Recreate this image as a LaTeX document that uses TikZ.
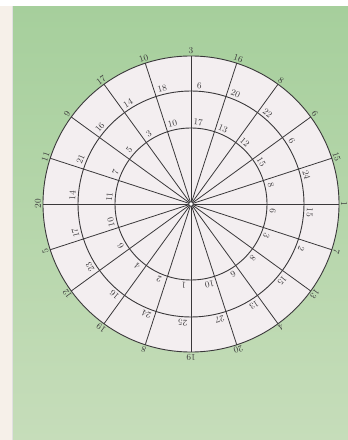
\documentclass[tikz,border=0pt]{standalone}
\usepackage{tikz}
\usetikzlibrary{positioning}
\definecolor{BoardGreen}{HTML}{A6CF9C}
\definecolor{BoardPale}{HTML}{C6DDBA}
\definecolor{DiscFill}{HTML}{F3EEF0}
\definecolor{DiscInk}{HTML}{3A383A}
\definecolor{StripCream}{HTML}{F6F0E9}

\begin{document}
\begin{tikzpicture}[x=1pt,y=1pt,
  ring/.style={draw=DiscInk, line width=0.9pt},
  spoke/.style={draw=DiscInk, line width=0.8pt},
  numlbl/.style={text=DiscInk, font=\small, inner sep=0pt}
]
\useasboundingbox (0,0) rectangle (348,440);
\shade[top color=BoardGreen, bottom color=BoardPale] (12,0) rectangle (348,434);
\fill[white] (0,434) rectangle (348,440);
\fill[StripCream] (0,0) rectangle (12,434);
\draw[black!12] (12,0) -- (12,434);
\coordinate (c) at (191,236);
\fill[DiscFill] (c) circle (148);
\draw[ring] (c) circle (148) (c) circle (113) (c) circle (76);
\foreach \k/\ov/\mv/\iv in {0/1/15/6, 1/15/24/8, 2/6/6/15, 3/8/22/12, 4/16/20/13,
    5/3/6/17, 6/10/18/10, 7/17/14/3, 8/9/16/5, 9/11/21/7,
    10/20/14/11, 11/5/17/10, 12/12/23/6, 13/19/16/4, 14/8/24/2,
    15/19/25/1, 16/20/27/10, 17/4/13/6, 18/13/15/8, 19/7/2/3} {
  \coordinate (s\k) at ([shift={(\k*18:148)}]c);
  \draw[spoke] (c) -- (s\k);
  \node[numlbl, rotate=\k*18-90] (o\k) at ([shift={(\k*18:153)}]c) {\ov};
  \node[numlbl, rotate=\k*18-94] (m\k) at ([shift={(\k*18-4:119)}]c) {\mv};
  \node[numlbl, rotate=\k*18-95] (n\k) at ([shift={(\k*18-5:82)}]c) {\iv};
}
\node[circle, draw=DiscInk, fill=white, line width=0.8pt, inner sep=1.6pt] (hub) at (c) {};
\end{tikzpicture}
\end{document}
